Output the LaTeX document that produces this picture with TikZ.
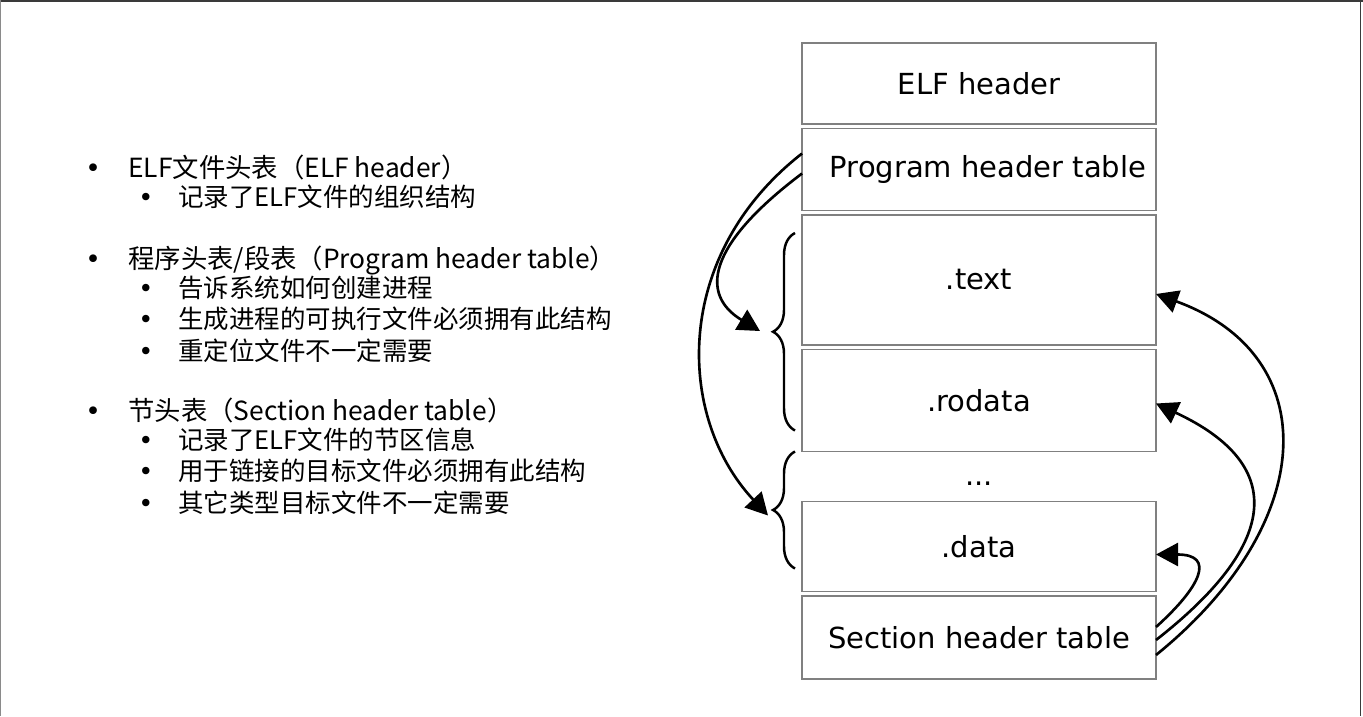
\documentclass[tikz,border=0pt]{standalone}
\usepackage{fontspec}
\usetikzlibrary{arrows.meta,positioning,decorations.pathreplacing}
\setmainfont{DejaVu Sans}
\newfontfamily\cjk{Noto Sans CJK SC}
\definecolor{BoxRule}{HTML}{808080}
\definecolor{Frame}{HTML}{3A3A3A}
\definecolor{SideRule}{HTML}{8A8A8A}
\newcommand{\bulA}{\makebox[0.86cm][l]{\normalfont•}}
\newcommand{\bulB}{\makebox[0.8cm][l]{\normalfont•}}

\begin{document}
\begin{tikzpicture}[
 seg/.style={draw=BoxRule,line width=0.8pt,outer sep=0pt,minimum width=7.08cm,inner sep=0pt,font=\fontsize{16.5}{19}\selectfont},
 item/.style={anchor=west,inner sep=0pt,text height=0.44cm,text depth=0.18cm,font=\cjk\fontsize{15}{18}\selectfont},
 sub/.style={item,font=\cjk\fontsize{14.5}{17}\selectfont},
 arrow/.style={-{Triangle[length=0.44cm,width=0.46cm]},line width=1.5pt},
 brace/.style={decorate,decoration={brace,amplitude=0.44cm},line width=1.4pt}]
 \useasboundingbox (0,0) rectangle (27.26,-14.32);
 % screen frame
 \draw[Frame,line width=1.1pt] (0,-0.02)--(27.26,-0.02);
 \draw[Frame,line width=1.1pt] (27.21,0)--(27.21,-14.32);
 \draw[SideRule,line width=0.5pt] (0.01,0)--(0.01,-14.32);
 % left: bullet list
 \node[item] (h1) at (1.7,-3.42) {\bulA ELF文件头表（ELF header）};
 \node[sub,below right=-0.06cm and 1.06cm of h1.south west] (s11) {\bulB 记录了ELF文件的组织结构};
 \node[item] (h2) at (1.7,-5.24) {\bulA 程序头表/段表（Program header table）};
 \node[sub,below right=-0.06cm and 1.06cm of h2.south west] (s21) {\bulB 告诉系统如何创建进程};
 \node[sub,below right=0cm and 0cm of s21.south west] (s22) {\bulB 生成进程的可执行文件必须拥有此结构};
 \node[sub,below right=0cm and 0cm of s22.south west] (s23) {\bulB 重定位文件不一定需要};
 \node[item] (h3) at (1.7,-8.28) {\bulA 节头表（Section header table）};
 \node[sub,below right=-0.06cm and 1.06cm of h3.south west] (s31) {\bulB 记录了ELF文件的节区信息};
 \node[sub,below right=0cm and 0cm of s31.south west] (s32) {\bulB 用于链接的目标文件必须拥有此结构};
 \node[sub,below right=0cm and 0cm of s32.south west] (s33) {\bulB 其它类型目标文件不一定需要};
 % right: file layout
 \node[seg,minimum height=1.62cm,anchor=north west] (elf) at (16.04,-0.86) {ELF header};
 \node[seg,minimum height=1.64cm,below=0.09cm of elf] (pht) {\raisebox{0.12cm}{\hspace*{0.36cm}Program header table}};
 \node[seg,minimum height=2.6cm,below=0.09cm of pht] (textsec) {.text};
 \node[seg,minimum height=2.04cm,below=0.09cm of textsec] (rodata) {.rodata};
 \node[seg,minimum height=1.8cm,below=1cm of rodata] (data) {.data};
 \node[seg,minimum height=1.66cm,below=0.09cm of data] (sht) {Section header table};
 \path (rodata)--node[yshift=-0.14cm,font=\fontsize{16.5}{19}\selectfont] (dots) {...}(data);
 % segments
 \draw[brace] ([xshift=-0.14cm,yshift=0.42cm]rodata.south west)--([xshift=-0.14cm,yshift=-0.36cm]textsec.north west);
 \draw[brace] ([xshift=-0.14cm,yshift=0.46cm]data.south west)--([xshift=-0.14cm]rodata.south west);
 \coordinate (tipA) at ([xshift=-0.84cm,yshift=0.28cm]textsec.south west);
 \coordinate (tipB) at ([xshift=-0.68cm,yshift=-0.28cm]data.north west);
 \draw[arrow] ([yshift=-0.08cm]pht.west) to[out=217,in=149,out distance=2.4cm,in distance=1.4cm] (tipA);
 \draw[arrow] ([yshift=0.32cm]pht.west) to[out=218,in=133,out distance=3.3cm,in distance=2.7cm] (tipB);
 \draw[arrow] ([yshift=-0.35cm]sht.east) to[out=39,in=340,out distance=4.2cm,in distance=3.6cm] ([yshift=-0.28cm]textsec.east);
 \draw[arrow] ([yshift=-0.05cm]sht.east) to[out=38,in=335,out distance=3cm,in distance=3cm] ([yshift=-0.06cm]rodata.east);
 \draw[arrow] ([yshift=0.21cm]sht.east) to[out=42,in=0,out distance=1.2cm,in distance=1.2cm] ([yshift=-0.16cm]data.east);
\end{tikzpicture}
\end{document}
